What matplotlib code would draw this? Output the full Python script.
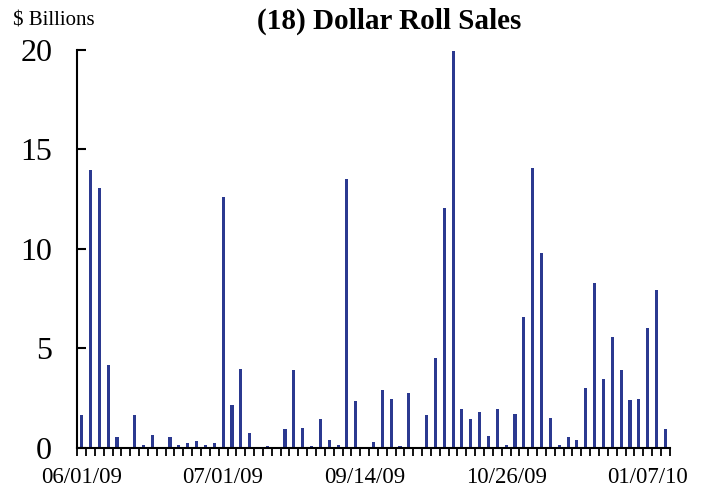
import matplotlib.pyplot as plt
import numpy as np

# dollar roll sales, $ billions, one bar per reporting period
sales = [1.63, 13.97, 13.05, 4.14, 0.55, 0.05, 1.64, 0.14, 0.64, 0.05,
         0.55, 0.14, 0.24, 0.34, 0.14, 0.24, 12.61, 2.15, 3.95, 0.75,
         0.0, 0.08, 0.0, 0.95, 3.92, 0.99, 0.08, 1.44, 0.37, 0.14,
         13.5, 2.36, 0.03, 0.29, 2.91, 2.46, 0.1, 2.76, 0.03, 1.64,
         4.49, 12.05, 19.95, 1.96, 1.44, 1.78, 0.59, 1.94, 0.14, 1.69,
         6.55, 14.04, 9.78, 1.49, 0.14, 0.55, 0.37, 2.98, 8.27, 3.44,
         5.55, 3.9, 2.4, 2.46, 6.0, 7.92, 0.94]
label_pos = [0, 16, 32, 48, 64]
date_labels = ['06/01/09', '07/01/09', '09/14/09', '10/26/09', '01/07/10']

plt.rcParams['font.family'] = ['Liberation Serif', 'DejaVu Serif']

fig = plt.figure(figsize=(7.08, 5.04), dpi=100)
ax = fig.add_axes([0.109, 0.112, 0.837, 0.789])

x = np.arange(len(sales))
ax.bar(x, sales, width=0.35, color='#2B3990')

ax.set_xlim(-0.5, len(sales) - 0.5)
ax.set_ylim(0, 20)
ax.set_yticks([0, 5, 10, 15, 20])
ax.tick_params(axis='y', direction='in', length=6.5, width=1.5, labelsize=23, pad=18)

# labels on category centres, tick marks on category boundaries
ax.set_xticks(label_pos)
ax.set_xticklabels(date_labels)
ax.set_xticks(np.arange(-0.5, len(sales), 1), minor=True)
ax.tick_params(axis='x', which='major', length=0, labelsize=16.5, pad=14)
ax.tick_params(axis='x', which='minor', direction='out', length=6, width=1.3)

for s in ['top', 'right']:
    ax.spines[s].set_visible(False)
for s in ['left', 'bottom']:
    ax.spines[s].set_linewidth(1.5)

fig.text(0.018, 0.958, '$ Billions', fontsize=15, ha='left', va='center')
fig.text(0.55, 0.958, '(18) Dollar Roll Sales', fontsize=21, fontweight='bold',
         ha='center', va='center')

fig.savefig('out.png', dpi=100)
